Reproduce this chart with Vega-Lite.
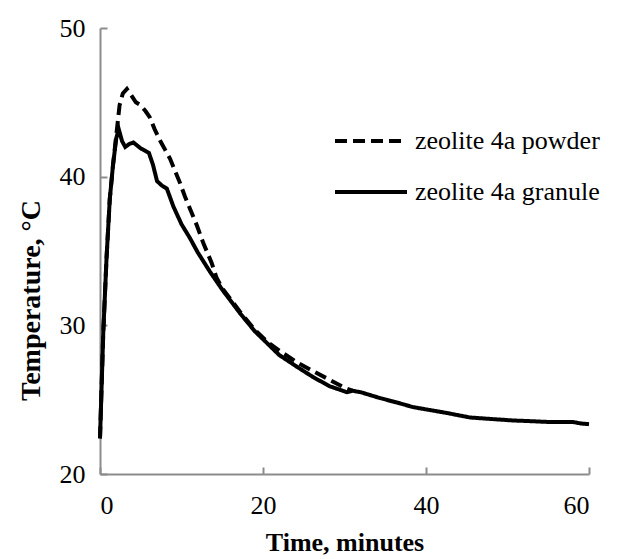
{
  "$schema": "https://vega.github.io/schema/vega-lite/v6.json",
  "width": 489,
  "height": 446,
  "autosize": "none",
  "padding": {"left": 100, "top": 28, "right": 29, "bottom": 85},
  "background": "white",
  "config": {
    "view": {"stroke": null},
    "font": "Liberation Serif",
    "axis": {
      "grid": false,
      "domainColor": "#8c8c8c",
      "domainWidth": 2,
      "tickColor": "#8c8c8c",
      "tickWidth": 2,
      "tickSize": -7,
      "labelFont": "Liberation Serif",
      "labelFontSize": 26,
      "labelColor": "black",
      "titleFont": "Liberation Serif",
      "titleFontSize": 26,
      "titleFontWeight": "bold",
      "titleColor": "black"
    }
  },
  "data": {
    "values": [
      {"series": "zeolite 4a granule", "time": 0, "temp": 22.4},
      {"series": "zeolite 4a granule", "time": 0.4, "temp": 29.5},
      {"series": "zeolite 4a granule", "time": 0.8, "temp": 34.5},
      {"series": "zeolite 4a granule", "time": 1.2, "temp": 38.5},
      {"series": "zeolite 4a granule", "time": 1.6, "temp": 40.8},
      {"series": "zeolite 4a granule", "time": 2.0, "temp": 42.6},
      {"series": "zeolite 4a granule", "time": 2.3, "temp": 43.2},
      {"series": "zeolite 4a granule", "time": 2.7, "temp": 42.4},
      {"series": "zeolite 4a granule", "time": 3.1, "temp": 42.0},
      {"series": "zeolite 4a granule", "time": 3.6, "temp": 42.2},
      {"series": "zeolite 4a granule", "time": 4.1, "temp": 42.3},
      {"series": "zeolite 4a granule", "time": 5.0, "temp": 41.9},
      {"series": "zeolite 4a granule", "time": 6.0, "temp": 41.6},
      {"series": "zeolite 4a granule", "time": 6.5, "temp": 40.8},
      {"series": "zeolite 4a granule", "time": 7.0, "temp": 39.7},
      {"series": "zeolite 4a granule", "time": 7.6, "temp": 39.4},
      {"series": "zeolite 4a granule", "time": 8.2, "temp": 39.2},
      {"series": "zeolite 4a granule", "time": 9.0, "temp": 38.0},
      {"series": "zeolite 4a granule", "time": 10.0, "temp": 36.8},
      {"series": "zeolite 4a granule", "time": 11.0, "temp": 35.9},
      {"series": "zeolite 4a granule", "time": 12.0, "temp": 34.9},
      {"series": "zeolite 4a granule", "time": 13.5, "temp": 33.6},
      {"series": "zeolite 4a granule", "time": 15.0, "temp": 32.4},
      {"series": "zeolite 4a granule", "time": 17.2, "temp": 30.8},
      {"series": "zeolite 4a granule", "time": 19.0, "temp": 29.6},
      {"series": "zeolite 4a granule", "time": 20.5, "temp": 28.8},
      {"series": "zeolite 4a granule", "time": 22.0, "temp": 28.0},
      {"series": "zeolite 4a granule", "time": 24.2, "temp": 27.2},
      {"series": "zeolite 4a granule", "time": 26.2, "temp": 26.5},
      {"series": "zeolite 4a granule", "time": 28.2, "temp": 25.9},
      {"series": "zeolite 4a granule", "time": 30.3, "temp": 25.5},
      {"series": "zeolite 4a granule", "time": 31.0, "temp": 25.6},
      {"series": "zeolite 4a granule", "time": 32.0, "temp": 25.5},
      {"series": "zeolite 4a granule", "time": 34.4, "temp": 25.1},
      {"series": "zeolite 4a granule", "time": 36.5, "temp": 24.8},
      {"series": "zeolite 4a granule", "time": 38.4, "temp": 24.5},
      {"series": "zeolite 4a granule", "time": 40.5, "temp": 24.3},
      {"series": "zeolite 4a granule", "time": 42.6, "temp": 24.1},
      {"series": "zeolite 4a granule", "time": 45.4, "temp": 23.8},
      {"series": "zeolite 4a granule", "time": 48.0, "temp": 23.7},
      {"series": "zeolite 4a granule", "time": 50.7, "temp": 23.6},
      {"series": "zeolite 4a granule", "time": 53.0, "temp": 23.55},
      {"series": "zeolite 4a granule", "time": 55.0, "temp": 23.5},
      {"series": "zeolite 4a granule", "time": 58.0, "temp": 23.5},
      {"series": "zeolite 4a granule", "time": 59.0, "temp": 23.4},
      {"series": "zeolite 4a granule", "time": 60.0, "temp": 23.35},
      {"series": "zeolite 4a powder", "time": 0, "temp": 22.4},
      {"series": "zeolite 4a powder", "time": 0.4, "temp": 29.5},
      {"series": "zeolite 4a powder", "time": 0.8, "temp": 34.5},
      {"series": "zeolite 4a powder", "time": 1.2, "temp": 38.5},
      {"series": "zeolite 4a powder", "time": 1.6, "temp": 40.8},
      {"series": "zeolite 4a powder", "time": 2.0, "temp": 42.8},
      {"series": "zeolite 4a powder", "time": 2.4, "temp": 44.8},
      {"series": "zeolite 4a powder", "time": 2.8, "temp": 45.6},
      {"series": "zeolite 4a powder", "time": 3.3, "temp": 45.9},
      {"series": "zeolite 4a powder", "time": 3.8, "temp": 45.5},
      {"series": "zeolite 4a powder", "time": 4.4, "temp": 45.0},
      {"series": "zeolite 4a powder", "time": 5.0, "temp": 44.8},
      {"series": "zeolite 4a powder", "time": 5.6, "temp": 44.4},
      {"series": "zeolite 4a powder", "time": 6.1, "temp": 44.0},
      {"series": "zeolite 4a powder", "time": 6.7, "temp": 43.2},
      {"series": "zeolite 4a powder", "time": 7.4, "temp": 42.4},
      {"series": "zeolite 4a powder", "time": 8.0, "temp": 41.8},
      {"series": "zeolite 4a powder", "time": 8.6, "temp": 41.2},
      {"series": "zeolite 4a powder", "time": 9.2, "temp": 40.4},
      {"series": "zeolite 4a powder", "time": 9.8, "temp": 39.6},
      {"series": "zeolite 4a powder", "time": 10.4, "temp": 38.7},
      {"series": "zeolite 4a powder", "time": 11.0, "temp": 37.9},
      {"series": "zeolite 4a powder", "time": 11.9, "temp": 36.7},
      {"series": "zeolite 4a powder", "time": 12.7, "temp": 35.5},
      {"series": "zeolite 4a powder", "time": 13.7, "temp": 34.2},
      {"series": "zeolite 4a powder", "time": 14.3, "temp": 33.2},
      {"series": "zeolite 4a powder", "time": 15.0, "temp": 32.5},
      {"series": "zeolite 4a powder", "time": 17.2, "temp": 30.9},
      {"series": "zeolite 4a powder", "time": 19.0, "temp": 29.7},
      {"series": "zeolite 4a powder", "time": 20.5, "temp": 28.9},
      {"series": "zeolite 4a powder", "time": 22.0, "temp": 28.3},
      {"series": "zeolite 4a powder", "time": 24.2, "temp": 27.5},
      {"series": "zeolite 4a powder", "time": 26.2, "temp": 26.9},
      {"series": "zeolite 4a powder", "time": 28.3, "temp": 26.3},
      {"series": "zeolite 4a powder", "time": 30.0, "temp": 25.8},
      {"series": "zeolite 4a powder", "time": 31.0, "temp": 25.6}
    ]
  },
  "mark": {"type": "line", "strokeWidth": 4, "color": "black", "strokeCap": "butt"},
  "encoding": {
    "x": {
      "field": "time", "type": "quantitative",
      "scale": {"domain": [0, 60], "nice": false},
      "axis": {"values": [0, 20, 40, 60], "title": "Time, minutes", "labelPadding": 25, "titlePadding": 11}
    },
    "y": {
      "field": "temp", "type": "quantitative",
      "scale": {"domain": [20, 50], "nice": false, "zero": false},
      "axis": {"values": [20, 30, 40, 50], "title": "Temperature, °C", "labelPadding": 22, "titlePadding": 14, "titleY": 272, "titleFontSize": 28}
    },
    "strokeDash": {
      "field": "series", "type": "nominal",
      "scale": {"domain": ["zeolite 4a powder", "zeolite 4a granule"], "range": [[12, 6], [1, 0]]},
      "legend": {
        "orient": "none", "legendX": 233, "legendY": 75, "title": null,
        "symbolType": "stroke", "symbolSize": 5184, "symbolStrokeWidth": 4,
        "symbolStrokeColor": "black",
        "labelFont": "Liberation Serif", "labelFontSize": 26, "labelColor": "black",
        "labelLimit": 400,
        "labelOffset": 6, "rowPadding": -6
      }
    }
  }
}
